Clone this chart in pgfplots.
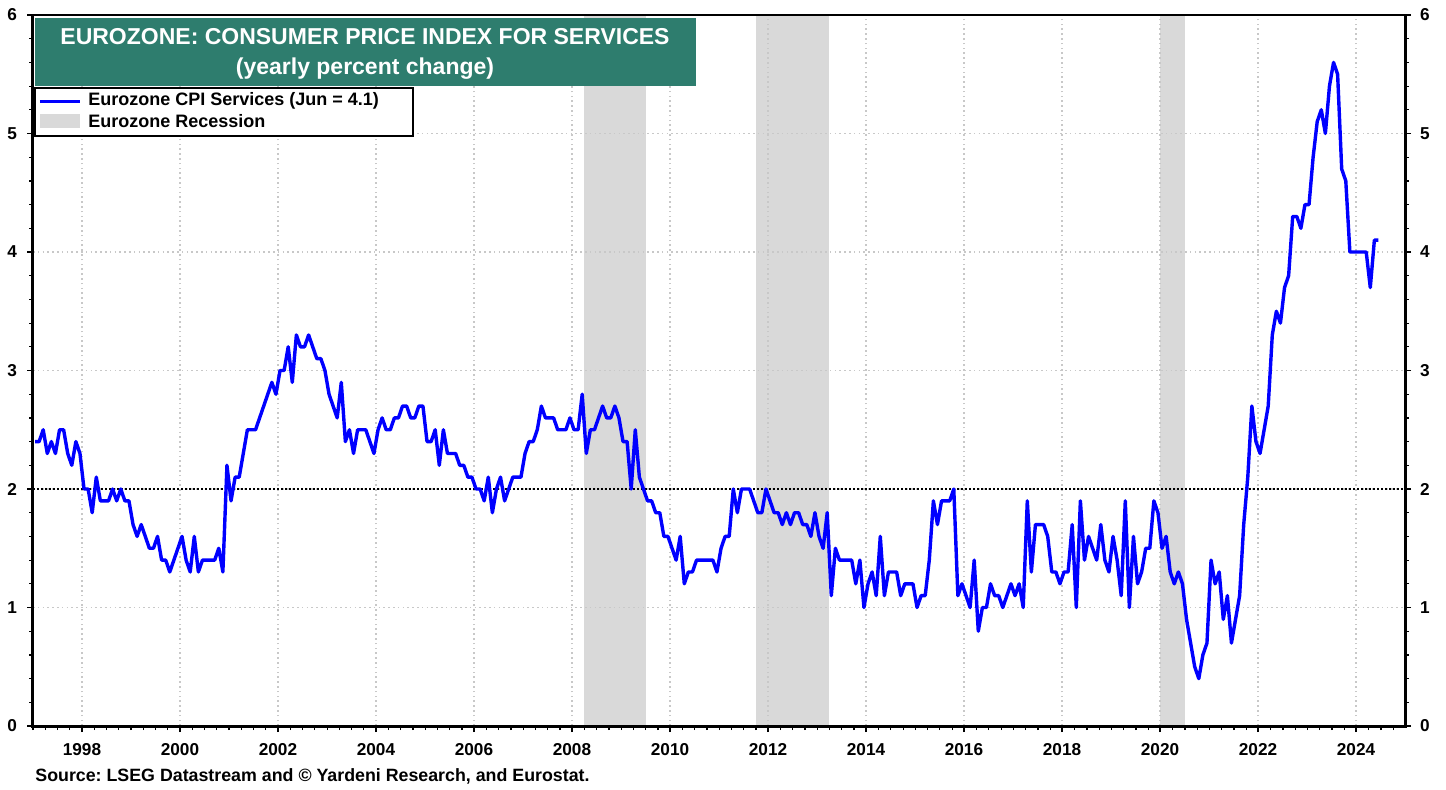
\documentclass[border=0pt]{standalone}
\usepackage{fontspec}
\setmainfont{Liberation Sans}
\usepackage{pgfplots}
\usepackage{pgfplotstable}
\pgfplotsset{compat=1.18}
\frenchspacing

\definecolor{cpiblue}{RGB}{0,0,255}
\definecolor{titleteal}{RGB}{46,125,110}
\definecolor{recgray}{RGB}{217,217,217}
\definecolor{gridgray}{RGB}{200,200,200}

% Eurozone CPI services, y/y %, monthly Jan 1997 .. Jun 2024
\pgfplotstableread[row sep=\\]{
v\\
2.4\\2.4\\2.5\\2.3\\2.4\\2.3\\2.5\\2.5\\2.3\\2.2\\2.4\\2.3\\
2.0\\2.0\\1.8\\2.1\\1.9\\1.9\\1.9\\2.0\\1.9\\2.0\\1.9\\1.9\\
1.7\\1.6\\1.7\\1.6\\1.5\\1.5\\1.6\\1.4\\1.4\\1.3\\1.4\\1.5\\
1.6\\1.4\\1.3\\1.6\\1.3\\1.4\\1.4\\1.4\\1.4\\1.5\\1.3\\2.2\\
1.9\\2.1\\2.1\\2.3\\2.5\\2.5\\2.5\\2.6\\2.7\\2.8\\2.9\\2.8\\
3.0\\3.0\\3.2\\2.9\\3.3\\3.2\\3.2\\3.3\\3.2\\3.1\\3.1\\3.0\\
2.8\\2.7\\2.6\\2.9\\2.4\\2.5\\2.3\\2.5\\2.5\\2.5\\2.4\\2.3\\
2.5\\2.6\\2.5\\2.5\\2.6\\2.6\\2.7\\2.7\\2.6\\2.6\\2.7\\2.7\\
2.4\\2.4\\2.5\\2.2\\2.5\\2.3\\2.3\\2.3\\2.2\\2.2\\2.1\\2.1\\
2.0\\2.0\\1.9\\2.1\\1.8\\2.0\\2.1\\1.9\\2.0\\2.1\\2.1\\2.1\\
2.3\\2.4\\2.4\\2.5\\2.7\\2.6\\2.6\\2.6\\2.5\\2.5\\2.5\\2.6\\
2.5\\2.5\\2.8\\2.3\\2.5\\2.5\\2.6\\2.7\\2.6\\2.6\\2.7\\2.6\\
2.4\\2.4\\2.0\\2.5\\2.1\\2.0\\1.9\\1.9\\1.8\\1.8\\1.6\\1.6\\
1.5\\1.4\\1.6\\1.2\\1.3\\1.3\\1.4\\1.4\\1.4\\1.4\\1.4\\1.3\\
1.5\\1.6\\1.6\\2.0\\1.8\\2.0\\2.0\\2.0\\1.9\\1.8\\1.8\\2.0\\
1.9\\1.8\\1.8\\1.7\\1.8\\1.7\\1.8\\1.8\\1.7\\1.7\\1.6\\1.8\\
1.6\\1.5\\1.8\\1.1\\1.5\\1.4\\1.4\\1.4\\1.4\\1.2\\1.4\\1.0\\
1.2\\1.3\\1.1\\1.6\\1.1\\1.3\\1.3\\1.3\\1.1\\1.2\\1.2\\1.2\\
1.0\\1.1\\1.1\\1.4\\1.9\\1.7\\1.9\\1.9\\1.9\\2.0\\1.1\\1.2\\
1.1\\1.0\\1.4\\0.8\\1.0\\1.0\\1.2\\1.1\\1.1\\1.0\\1.1\\1.2\\
1.1\\1.2\\1.0\\1.9\\1.3\\1.7\\1.7\\1.7\\1.6\\1.3\\1.3\\1.2\\
1.3\\1.3\\1.7\\1.0\\1.9\\1.4\\1.6\\1.5\\1.4\\1.7\\1.4\\1.3\\
1.6\\1.4\\1.1\\1.9\\1.0\\1.6\\1.2\\1.3\\1.5\\1.5\\1.9\\1.8\\
1.5\\1.6\\1.3\\1.2\\1.3\\1.2\\0.9\\0.7\\0.5\\0.4\\0.6\\0.7\\
1.4\\1.2\\1.3\\0.9\\1.1\\0.7\\0.9\\1.1\\1.7\\2.1\\2.7\\2.4\\
2.3\\2.5\\2.7\\3.3\\3.5\\3.4\\3.7\\3.8\\4.3\\4.3\\4.2\\4.4\\
4.4\\4.8\\5.1\\5.2\\5.0\\5.4\\5.6\\5.5\\4.7\\4.6\\4.0\\4.0\\
4.0\\4.0\\4.0\\3.7\\4.1\\4.1\\
}\cpi

\pgfplotsset{
  yardeni/.style={
    at={(0,0)}, anchor=south west,
    scale only axis, width=686pt, height=355.5pt,
    xmin=1997, xmax=2025, ymin=0, ymax=6,
    axis line style={line width=1.5pt, line cap=rect, -},
    ytick={0,1,...,6}, minor y tick num=4,
    tick align=outside,
    major tick length=3pt, minor tick length=2pt,
    tick style={black, line width=0.6pt},
    /pgf/number format/assume math mode=true,
    ticklabel style={font=\fontsize{8.6}{10}\selectfont\bfseries},
  },
}

\begin{document}
\begin{tikzpicture}
\begin{axis}[
  yardeni,
  set layers,
  axis x line*=bottom, axis y line*=left,
  xtick={1998,2000,...,2024},
  minor xtick={1997,1997.25,...,2025},
  xticklabel style={/pgf/number format/1000 sep={}, yshift=-2pt},
  yticklabel style={xshift=-1.5pt},
  grid=major,
  major grid style={gridgray, line width=0.8pt, dash pattern=on 0.8pt off 1.6pt},
]
% recessions
\addplot[on layer=axis background, fill=recgray, draw=none] coordinates {(2008.25,0) (2008.25,6) (2009.5,6) (2009.5,0)} -- cycle;
\addplot[on layer=axis background, fill=recgray, draw=none] coordinates {(2011.75,0) (2011.75,6) (2013.25,6) (2013.25,0)} -- cycle;
\addplot[on layer=axis background, fill=recgray, draw=none] coordinates {(2020.0,0) (2020.0,6) (2020.5,6) (2020.5,0)} -- cycle;
% 2% reference
\addplot[black, line width=1pt, dash pattern=on 1pt off 1pt] coordinates {(1997,2) (2025,2)};
\addplot[cpiblue, line width=1.7pt, line join=round] table[x expr={1997+(\coordindex+0.5)/12}, y=v] {\cpi};
\end{axis}

\begin{axis}[
  yardeni,
  axis x line=none, axis y line*=right,
  yticklabel style={xshift=1pt},
]
\addplot[draw=none] coordinates {(2000,1)};
\end{axis}

\draw[line width=0.75pt] (-0.75pt,355.5pt) -- (686.75pt,355.5pt);

% title
\fill[titleteal] (1pt,320pt) rectangle (331.5pt,354pt);
\node[white, font=\fontsize{11.5}{13}\selectfont\bfseries] at (166pt,344.5pt) {EUROZONE: CONSUMER PRICE INDEX FOR SERVICES};
\node[white, font=\fontsize{11.5}{13}\selectfont\bfseries] at (166pt,328.5pt) {(yearly percent change)};

% legend
\draw[fill=white, line width=0.9pt] (1pt,295pt) rectangle (190pt,319pt);
\draw[cpiblue, line width=1.5pt] (3.5pt,312.5pt) -- (23.5pt,312.5pt);
\fill[recgray] (3.5pt,299pt) rectangle (23.5pt,306pt);
\node[anchor=west, inner sep=0pt, font=\fontsize{9}{10}\selectfont\bfseries] at (27.5pt,312.5pt) {Eurozone CPI Services (Jun = 4.1)};
\node[anchor=west, inner sep=0pt, font=\fontsize{9}{10}\selectfont\bfseries] at (27.5pt,302.5pt) {Eurozone Recession};

% source
\node[anchor=west, inner sep=0pt, font=\fontsize{8.9}{10}\selectfont\bfseries] at (1pt,-25pt) {Source: LSEG Datastream and © Yardeni Research, and Eurostat.};

\pgfresetboundingbox
\useasboundingbox (-16.5pt,-31.5pt) rectangle (706.5pt,363pt);
\end{tikzpicture}
\end{document}
